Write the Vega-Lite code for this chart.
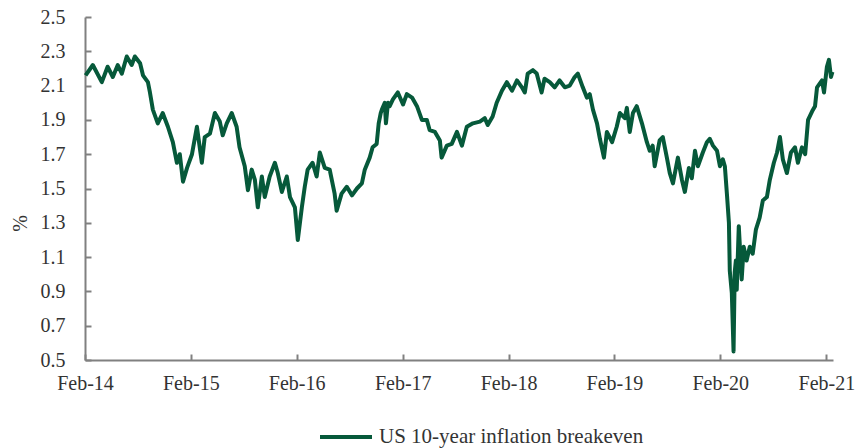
{
  "$schema": "https://vega.github.io/schema/vega-lite/v6.json",
  "width": 748,
  "height": 343,
  "autosize": {"type": "none"},
  "padding": {"left": 85, "top": 17, "right": 22, "bottom": 88},
  "background": "white",
  "view": {"stroke": null},
  "config": {
    "font": "Liberation Serif",
    "axis": {
      "labelFont": "Liberation Serif",
      "labelFontSize": 20,
      "labelColor": "#333333",
      "titleFont": "Liberation Serif",
      "titleFontSize": 20,
      "titleColor": "#333333",
      "titleFontWeight": "normal",
      "domainColor": "#808080",
      "domainWidth": 2,
      "tickColor": "#808080",
      "tickWidth": 2,
      "tickSize": -6,
      "grid": false
    },
    "legend": {
      "labelFont": "Liberation Serif",
      "labelFontSize": 21,
      "labelColor": "#333333",
      "labelLimit": 500
    }
  },
  "data": {
    "values": [
      {"date": "2014-02-03", "value": 2.16},
      {"date": "2014-02-28", "value": 2.22},
      {"date": "2014-03-31", "value": 2.12},
      {"date": "2014-04-20", "value": 2.21},
      {"date": "2014-05-08", "value": 2.15},
      {"date": "2014-05-25", "value": 2.22},
      {"date": "2014-06-08", "value": 2.17},
      {"date": "2014-06-25", "value": 2.27},
      {"date": "2014-07-12", "value": 2.22},
      {"date": "2014-07-23", "value": 2.27},
      {"date": "2014-08-10", "value": 2.23},
      {"date": "2014-08-20", "value": 2.16},
      {"date": "2014-09-06", "value": 2.12},
      {"date": "2014-09-13", "value": 2.06},
      {"date": "2014-09-23", "value": 1.96},
      {"date": "2014-10-10", "value": 1.88},
      {"date": "2014-10-27", "value": 1.94},
      {"date": "2014-11-14", "value": 1.86},
      {"date": "2014-12-01", "value": 1.77},
      {"date": "2014-12-15", "value": 1.65},
      {"date": "2014-12-25", "value": 1.70},
      {"date": "2015-01-05", "value": 1.54},
      {"date": "2015-01-19", "value": 1.62},
      {"date": "2015-02-05", "value": 1.70},
      {"date": "2015-02-22", "value": 1.86},
      {"date": "2015-03-11", "value": 1.65},
      {"date": "2015-03-21", "value": 1.80},
      {"date": "2015-04-08", "value": 1.82},
      {"date": "2015-04-25", "value": 1.94},
      {"date": "2015-05-12", "value": 1.89},
      {"date": "2015-05-22", "value": 1.81},
      {"date": "2015-06-05", "value": 1.88},
      {"date": "2015-06-22", "value": 1.94},
      {"date": "2015-07-09", "value": 1.86},
      {"date": "2015-07-19", "value": 1.74},
      {"date": "2015-08-06", "value": 1.63},
      {"date": "2015-08-17", "value": 1.49},
      {"date": "2015-08-30", "value": 1.61},
      {"date": "2015-09-10", "value": 1.55},
      {"date": "2015-09-20", "value": 1.39},
      {"date": "2015-10-04", "value": 1.57},
      {"date": "2015-10-14", "value": 1.45},
      {"date": "2015-10-31", "value": 1.57},
      {"date": "2015-11-18", "value": 1.65},
      {"date": "2015-11-28", "value": 1.59},
      {"date": "2015-12-12", "value": 1.48},
      {"date": "2015-12-29", "value": 1.57},
      {"date": "2016-01-09", "value": 1.45},
      {"date": "2016-01-26", "value": 1.39},
      {"date": "2016-02-05", "value": 1.20},
      {"date": "2016-02-19", "value": 1.39},
      {"date": "2016-02-29", "value": 1.51},
      {"date": "2016-03-10", "value": 1.61},
      {"date": "2016-03-27", "value": 1.65},
      {"date": "2016-04-10", "value": 1.57},
      {"date": "2016-04-21", "value": 1.71},
      {"date": "2016-05-08", "value": 1.62},
      {"date": "2016-05-25", "value": 1.61},
      {"date": "2016-06-11", "value": 1.47},
      {"date": "2016-06-18", "value": 1.37},
      {"date": "2016-07-05", "value": 1.47},
      {"date": "2016-07-23", "value": 1.51},
      {"date": "2016-08-10", "value": 1.46},
      {"date": "2016-08-27", "value": 1.50},
      {"date": "2016-09-13", "value": 1.53},
      {"date": "2016-09-23", "value": 1.61},
      {"date": "2016-10-10", "value": 1.68},
      {"date": "2016-10-20", "value": 1.74},
      {"date": "2016-11-03", "value": 1.76},
      {"date": "2016-11-10", "value": 1.88},
      {"date": "2016-11-17", "value": 1.94},
      {"date": "2016-11-21", "value": 1.96},
      {"date": "2016-12-01", "value": 2.00},
      {"date": "2016-12-05", "value": 1.88},
      {"date": "2016-12-12", "value": 2.00},
      {"date": "2016-12-18", "value": 1.98},
      {"date": "2016-12-29", "value": 2.02},
      {"date": "2017-01-15", "value": 2.06},
      {"date": "2017-02-02", "value": 1.99},
      {"date": "2017-02-15", "value": 2.05},
      {"date": "2017-03-05", "value": 2.03},
      {"date": "2017-03-22", "value": 1.98},
      {"date": "2017-04-08", "value": 1.90},
      {"date": "2017-04-25", "value": 1.90},
      {"date": "2017-05-05", "value": 1.84},
      {"date": "2017-05-23", "value": 1.83},
      {"date": "2017-06-09", "value": 1.78},
      {"date": "2017-06-15", "value": 1.68},
      {"date": "2017-07-03", "value": 1.75},
      {"date": "2017-07-20", "value": 1.76},
      {"date": "2017-08-07", "value": 1.83},
      {"date": "2017-08-24", "value": 1.75},
      {"date": "2017-09-10", "value": 1.86},
      {"date": "2017-10-01", "value": 1.88},
      {"date": "2017-10-25", "value": 1.89},
      {"date": "2017-11-11", "value": 1.91},
      {"date": "2017-11-21", "value": 1.87},
      {"date": "2017-12-08", "value": 1.92},
      {"date": "2017-12-22", "value": 2.00},
      {"date": "2018-01-09", "value": 2.07},
      {"date": "2018-01-26", "value": 2.12},
      {"date": "2018-02-13", "value": 2.07},
      {"date": "2018-03-02", "value": 2.13},
      {"date": "2018-03-19", "value": 2.09},
      {"date": "2018-03-29", "value": 2.06},
      {"date": "2018-04-08", "value": 2.17},
      {"date": "2018-04-26", "value": 2.19},
      {"date": "2018-05-09", "value": 2.17},
      {"date": "2018-05-26", "value": 2.06},
      {"date": "2018-06-05", "value": 2.14},
      {"date": "2018-06-23", "value": 2.12},
      {"date": "2018-07-10", "value": 2.09},
      {"date": "2018-07-27", "value": 2.13},
      {"date": "2018-08-14", "value": 2.09},
      {"date": "2018-08-31", "value": 2.10},
      {"date": "2018-09-17", "value": 2.15},
      {"date": "2018-09-28", "value": 2.17},
      {"date": "2018-10-15", "value": 2.09},
      {"date": "2018-10-29", "value": 2.03},
      {"date": "2018-11-08", "value": 2.05},
      {"date": "2018-11-19", "value": 1.96},
      {"date": "2018-12-03", "value": 1.88},
      {"date": "2018-12-13", "value": 1.79},
      {"date": "2018-12-27", "value": 1.68},
      {"date": "2019-01-06", "value": 1.83},
      {"date": "2019-01-24", "value": 1.77},
      {"date": "2019-02-09", "value": 1.86},
      {"date": "2019-02-20", "value": 1.94},
      {"date": "2019-03-09", "value": 1.91},
      {"date": "2019-03-16", "value": 1.97},
      {"date": "2019-03-26", "value": 1.83},
      {"date": "2019-04-06", "value": 1.94},
      {"date": "2019-04-19", "value": 1.98},
      {"date": "2019-05-07", "value": 1.88},
      {"date": "2019-05-24", "value": 1.77},
      {"date": "2019-06-03", "value": 1.72},
      {"date": "2019-06-13", "value": 1.75},
      {"date": "2019-06-20", "value": 1.63},
      {"date": "2019-07-07", "value": 1.78},
      {"date": "2019-07-18", "value": 1.80},
      {"date": "2019-08-01", "value": 1.68},
      {"date": "2019-08-11", "value": 1.59},
      {"date": "2019-08-22", "value": 1.53},
      {"date": "2019-09-08", "value": 1.68},
      {"date": "2019-09-22", "value": 1.55},
      {"date": "2019-10-02", "value": 1.48},
      {"date": "2019-10-16", "value": 1.62},
      {"date": "2019-10-26", "value": 1.56},
      {"date": "2019-11-06", "value": 1.72},
      {"date": "2019-11-16", "value": 1.63},
      {"date": "2019-12-03", "value": 1.71},
      {"date": "2019-12-17", "value": 1.77},
      {"date": "2019-12-27", "value": 1.79},
      {"date": "2020-01-07", "value": 1.75},
      {"date": "2020-01-21", "value": 1.72},
      {"date": "2020-01-31", "value": 1.63},
      {"date": "2020-02-10", "value": 1.67},
      {"date": "2020-02-17", "value": 1.63},
      {"date": "2020-02-24", "value": 1.47},
      {"date": "2020-03-02", "value": 1.30},
      {"date": "2020-03-05", "value": 1.02},
      {"date": "2020-03-12", "value": 0.89},
      {"date": "2020-03-18", "value": 0.55},
      {"date": "2020-03-22", "value": 1.01},
      {"date": "2020-03-26", "value": 1.08},
      {"date": "2020-03-29", "value": 0.91},
      {"date": "2020-04-05", "value": 1.28},
      {"date": "2020-04-15", "value": 0.97},
      {"date": "2020-04-22", "value": 1.16},
      {"date": "2020-05-02", "value": 1.08},
      {"date": "2020-05-13", "value": 1.16},
      {"date": "2020-05-23", "value": 1.12},
      {"date": "2020-06-03", "value": 1.26},
      {"date": "2020-06-16", "value": 1.33},
      {"date": "2020-06-27", "value": 1.43},
      {"date": "2020-07-11", "value": 1.45},
      {"date": "2020-07-21", "value": 1.55},
      {"date": "2020-08-04", "value": 1.65},
      {"date": "2020-08-15", "value": 1.71},
      {"date": "2020-08-25", "value": 1.80},
      {"date": "2020-09-04", "value": 1.67},
      {"date": "2020-09-18", "value": 1.59},
      {"date": "2020-10-02", "value": 1.71},
      {"date": "2020-10-16", "value": 1.74},
      {"date": "2020-10-26", "value": 1.65},
      {"date": "2020-11-09", "value": 1.74},
      {"date": "2020-11-20", "value": 1.70},
      {"date": "2020-11-30", "value": 1.90},
      {"date": "2020-12-14", "value": 1.95},
      {"date": "2020-12-24", "value": 1.98},
      {"date": "2020-12-31", "value": 2.09},
      {"date": "2021-01-17", "value": 2.13},
      {"date": "2021-01-24", "value": 2.06},
      {"date": "2021-02-03", "value": 2.21},
      {"date": "2021-02-10", "value": 2.25},
      {"date": "2021-02-17", "value": 2.15},
      {"date": "2021-02-22", "value": 2.18}
    ]
  },
  "transform": [{"calculate": "'US 10-year inflation breakeven'", "as": "series"}],
  "mark": {"type": "line", "strokeWidth": 4, "strokeJoin": "round"},
  "encoding": {
    "x": {
      "field": "date",
      "type": "temporal",
      "scale": {"type": "utc", "domain": [{"year": 2014, "month": 2, "date": 1, "utc": true}, {"year": 2021, "month": 2, "date": 24, "utc": true}]},
      "axis": {
        "title": null,
        "format": "%b-%y",
        "values": [
          {"year": 2014, "month": 2, "date": 1, "utc": true},
          {"year": 2015, "month": 2, "date": 1, "utc": true},
          {"year": 2016, "month": 2, "date": 1, "utc": true},
          {"year": 2017, "month": 2, "date": 1, "utc": true},
          {"year": 2018, "month": 2, "date": 1, "utc": true},
          {"year": 2019, "month": 2, "date": 1, "utc": true},
          {"year": 2020, "month": 2, "date": 1, "utc": true},
          {"year": 2021, "month": 2, "date": 1, "utc": true}
        ],
        "labelPadding": 19,
        "labelFlush": false,
        "labelOverlap": false
      }
    },
    "y": {
      "field": "value",
      "type": "quantitative",
      "scale": {"domain": [0.5, 2.5], "nice": false, "zero": false},
      "axis": {
        "title": "%",
        "values": [0.5, 0.7, 0.9, 1.1, 1.3, 1.5, 1.7, 1.9, 2.1, 2.3, 2.5],
        "format": ".1f",
        "labelPadding": 26,
        "titleAngle": -90,
        "titleX": -65,
        "titleY": 206,
        "titleAlign": "center",
        "titleBaseline": "middle"
      }
    },
    "color": {
      "field": "series",
      "type": "nominal",
      "scale": {"range": ["#06593a"]},
      "legend": {
        "title": null,
        "orient": "none",
        "legendX": 233,
        "legendY": 392,
        "symbolType": "stroke",
        "symbolSize": 2704,
        "symbolStrokeWidth": 4,
        "labelOffset": 5
      }
    }
  }
}
